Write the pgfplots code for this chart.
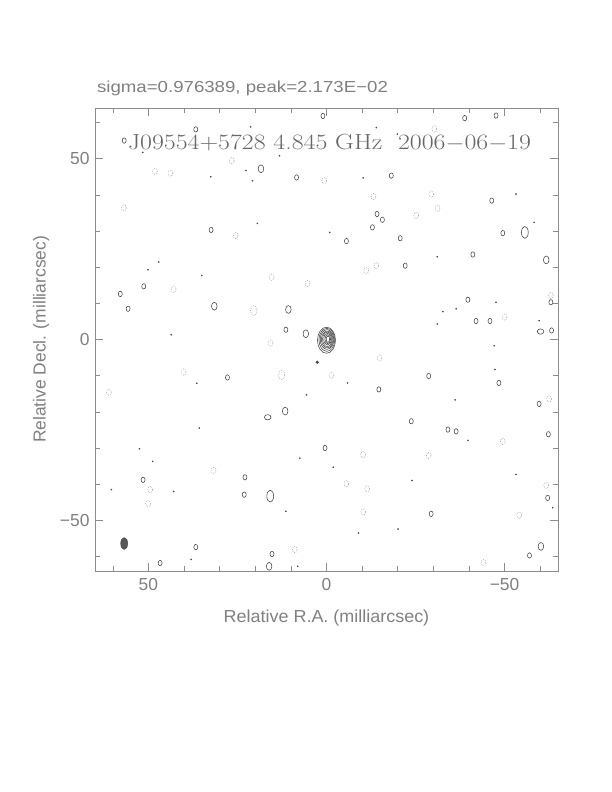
\documentclass[border=0pt]{standalone}
\usepackage{pgfplots}
\pgfplotsset{compat=1.18}
\usepackage{fontspec}
\setsansfont{Liberation Sans}
\definecolor{txt}{gray}{0.5}
\definecolor{frm}{gray}{0.55}
\begin{document}
\begin{tikzpicture}
\useasboundingbox (0,0) rectangle (612bp,792bp);
\begin{axis}[
  at={(95bp,221bp)}, anchor=south west,
  scale only axis, width=463bp, height=463bp,
  x dir=reverse, xmin=-65, xmax=65, ymin=-64, ymax=64,
  xtick={-50,0,50}, xticklabels={−50,0,50},
  ytick={-50,0,50}, yticklabels={−50,0,50},
  minor xtick={-60,-40,-30,-20,-10,10,20,30,40,60},
  minor ytick={-60,-40,-30,-20,-10,10,20,30,40,60},
  tick align=inside, xtick pos=both, ytick pos=both,
  major tick length=8bp, minor tick length=5bp,
  axis line style={frm, line width=0.6pt},
  tick style={frm, line width=0.6pt},
  tick label style={font=\sffamily\fontsize{17.5}{20}\selectfont, text=txt},
  xticklabel style={yshift=-4bp},
  yticklabel style={xshift=-2bp},
  xlabel={Relative R.A. (milliarcsec)},
  ylabel={Relative Decl. (milliarcsec)},
  label style={font=\sffamily\fontsize{17.5}{20}\selectfont, text=txt},
  xlabel style={at={(axis description cs:0.5,-0.1015)}, anchor=center, xscale=1.03},
  ylabel style={at={(axis description cs:-0.1166,0.5)}, anchor=center},
  title={sigma=0.976389, peak=2.173E−02},
  title style={at={(axis description cs:0.004,1.029)}, anchor=west, inner sep=0pt, font=\sffamily\fontsize{16}{18}\selectfont, text=txt, xscale=1.17},
]
% small positive contours
\addplot[black!80, only marks, mark=o, mark size=2bp, mark options={line width=0.5pt, yscale=1.35}] coordinates {
(56.8,55.0)(36.7,58.1)(1.0,61.8)(8.4,44.8)(32.4,30.3)(51.3,14.7)(57.9,12.6)(55.7,8.5)(11.4,2.7)
(-38.8,61.2)(-47.6,61.9)(-18.2,45.3)(-14.2,34.7)(-15.7,33.1)(-12.9,31.0)(-5.6,27.2)(-20.7,28.0)
(-22.1,20.4)(-49.5,29.4)(-41.1,23.5)(-39.7,11.0)(-42.0,5.1)(-45.9,5.1)(-63.0,10.3)(-63.2,2.5)
(-46.4,38.4)(27.8,-10.5)(0.4,-30.0)(51.5,-38.8)(22.9,-38.1)(23.1,-42.9)(36.7,-57.4)(46.7,-61.8)
(15.3,-59.3)(-28.7,-10.1)(-48.4,-12.0)(-14.7,-13.8)(-59.7,-17.8)(-23.8,-22.6)(-34.1,-24.9)
(-36.4,-25.4)(-62.3,-26.2)(-62.1,-43.8)(-29.4,-48.2)(-57.0,-59.7)
};
% medium positive contours
\addplot[black!80, only marks, mark=o, mark size=2.8bp, mark options={line width=0.5pt, yscale=1.4}] coordinates {
(18.4,47.2)(31.5,9.2)(10.7,8.3)(5.8,1.6)(11.6,-19.8)(16.1,-62.7)(-61.7,22.0)(-60.2,-57.2)
};
\addplot[black!80, only marks, mark=o, mark size=3.3bp, mark options={line width=0.5pt, yscale=0.8}] coordinates {
(16.5,-21.5)(-60.1,2.2)
};
\addplot[black!80, only marks, mark=o, mark size=3.4bp, mark options={line width=0.5pt, yscale=1.75}] coordinates {
(15.8,-43.3)(-55.7,29.6)
};
% negative contours
\addplot[black!45, only marks, mark=o, mark size=2.4bp, mark options={line width=0.45pt, dash pattern=on 0.8pt off 1.2pt, yscale=1.3}] coordinates {
(26.6,49.4)(48.2,46.5)(43.8,46.0)(56.9,36.4)(25.5,28.7)(0.6,43.9)(15.4,17.2)(5.3,15.5)(42.9,13.9)
(-30.3,58.2)(-13.2,39.5)(-29.4,40.2)(-31.2,36.3)(-25.2,34.3)(-14.0,20.4)(-11.2,19.1)(-50.0,6.2)
(-63.0,12.2)(15.7,-1.0)(40.1,-9.0)(61.1,-14.6)(49.5,-41.5)(50.1,-45.4)(31.7,-36.2)(8.9,-58.1)
(-14.9,-5.1)(-1.4,-9.9)(-62.5,-16.4)(-49.5,-28.2)(-10.3,-31.8)(-28.7,-32.1)(-5.6,-39.9)
(-11.4,-41.3)(-10.3,-47.7)(-54.1,-48.6)(-61.7,-40.3)(-44.1,-61.7)
};
\addplot[black!45, only marks, mark=o, mark size=3.2bp, mark options={line width=0.45pt, dash pattern=on 0.8pt off 1.2pt, yscale=1.5}] coordinates {
(20.4,8.0)(12.6,-9.8)
};
% tiny dots
\addplot[black!70, only marks, mark=*, mark size=0.6bp] coordinates {
(21.3,58.8)(13.2,50.8)(51.6,51.7)(32.5,45.0)(22.6,46.7)(20.8,43.9)(19.4,32.1)(-0.9,29.6)
(50.1,19.3)(35.0,17.7)(47.1,21.4)(43.6,1.3)(-14.0,58.6)(-19.9,56.8)(-53.2,40.2)(-10.3,44.7)
(-31.1,22.9)(-47.6,10.3)(-59.7,5.2)(-32.7,7.7)(-36.4,8.5)(-31.1,4.3)(-58.3,32.4)
(36.4,-12.1)(35.7,-24.5)(52.5,-30.2)(48.8,-33.7)(42.9,-42.0)(11.4,-47.5)(5.6,-15.3)(7.5,-32.8)
(60.4,-41.5)(38.0,-60.8)(8.1,-62.7)(-47.1,-1.7)(-47.3,-8.3)(-36.1,-16.7)(-39.7,-27.9)
(-53.2,-37.3)(-24.0,-39.0)(-20.1,-52.4)(-9.0,-53.5)(-1.9,-35.3)(-63.5,-46.5)(-5.9,-12.0)
};
\addplot[black!75, only marks, mark=*, mark size=1.3bp] coordinates {(2.6,-6.3)};
% central source
\addplot[black!80, only marks, mark=o, mark size=9bp, mark options={line width=0.5pt, yscale=1.45}] coordinates {(0.0,-0.2)};
\addplot[black!80, only marks, mark=o, mark size=7.9bp, mark options={line width=0.5pt, yscale=1.45}] coordinates {(-0.1,-0.1)};
\addplot[black!80, only marks, mark=o, mark size=6.8bp, mark options={line width=0.5pt, yscale=1.45}] coordinates {(-0.15,0)};
\addplot[black!80, only marks, mark=o, mark size=5.8bp, mark options={line width=0.5pt, yscale=1.45}] coordinates {(-0.2,0)};
\addplot[black!80, only marks, mark=o, mark size=4.8bp, mark options={line width=0.5pt, yscale=1.5}] coordinates {(-0.25,0.05)};
\addplot[black!80, only marks, mark=o, mark size=3.8bp, mark options={line width=0.5pt, yscale=1.55}] coordinates {(-0.3,0.1)};
\addplot[black!80, only marks, mark=o, mark size=2.8bp, mark options={line width=0.5pt, yscale=1.6}] coordinates {(-0.35,0.1)};
\addplot[black!80, only marks, mark=o, mark size=1.7bp, mark options={line width=0.5pt, yscale=1.9}] coordinates {(-0.4,0.1)};
% beam
\addplot[black!75, only marks, mark=*, mark size=3.5bp, mark options={fill=black!65, yscale=1.7}] coordinates {(56.8,-56.4)};
% map title
\node[anchor=center, font=\rmfamily\fontsize{22}{25}\selectfont, text=black!60, xscale=1.18] at (axis description cs:0.5065,0.924) {J09554+5728 4.845 GHz\ \ 2006$-$06$-$19};
\end{axis}
\end{tikzpicture}
\end{document}
